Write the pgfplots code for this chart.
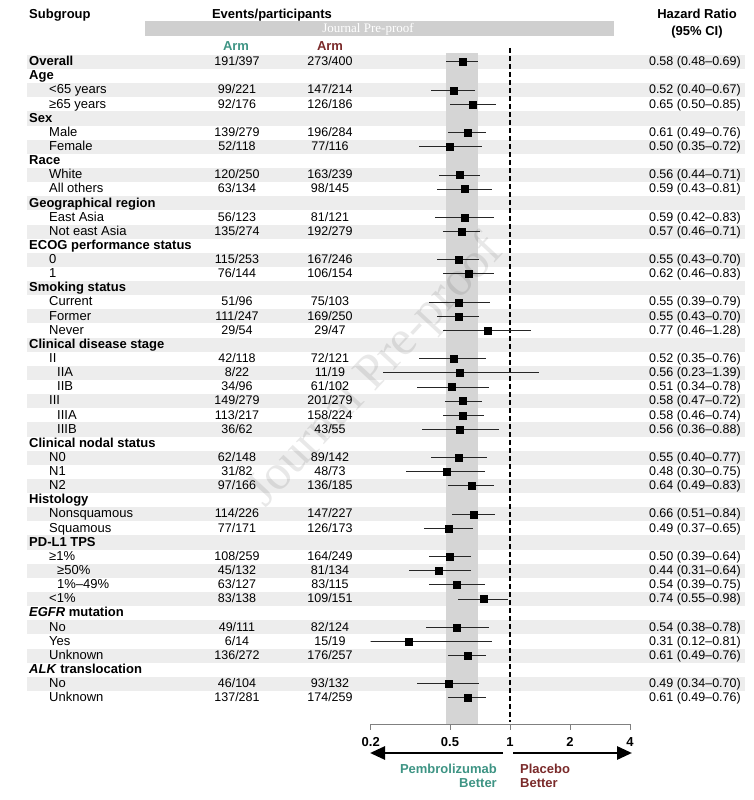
\documentclass[border=0pt]{standalone}
\usepackage{fontspec}
\setmainfont{Liberation Sans}
\newfontfamily\wmfont{Liberation Serif}
\usepackage{pgfplots}
\usepackage{pgfplotstable}
\pgfplotsset{compat=1.18}
\usetikzlibrary{arrows.meta}

\definecolor{pembro}{HTML}{3E9484}
\definecolor{placebo}{HTML}{7A2A2A}
\definecolor{stripe}{HTML}{EDEDED}
\definecolor{ciband}{HTML}{D5D5D5}
\definecolor{hdrbar}{HTML}{CFCFCF}

% i = row (top to bottom), lx = left edge of the label in px
\pgfplotstableread[col sep=semicolon]{
i;lx;sub;a;b;hr;lo;hi;ci
1;29;\textbf{Overall};191/397;273/400;0.58;0.48;0.69;0.58 (0.48–0.69)
2;29;\textbf{Age};{};{};nan;nan;nan;{}
3;49;<65 years;99/221;147/214;0.52;0.40;0.67;0.52 (0.40–0.67)
4;49;≥65 years;92/176;126/186;0.65;0.50;0.85;0.65 (0.50–0.85)
5;29;\textbf{Sex};{};{};nan;nan;nan;{}
6;49;Male;139/279;196/284;0.61;0.49;0.76;0.61 (0.49–0.76)
7;49;Female;52/118;77/116;0.50;0.35;0.72;0.50 (0.35–0.72)
8;29;\textbf{Race};{};{};nan;nan;nan;{}
9;49;White;120/250;163/239;0.56;0.44;0.71;0.56 (0.44–0.71)
10;49;All others;63/134;98/145;0.59;0.43;0.81;0.59 (0.43–0.81)
11;29;\textbf{Geographical region};{};{};nan;nan;nan;{}
12;49;East Asia;56/123;81/121;0.59;0.42;0.83;0.59 (0.42–0.83)
13;49;Not east Asia;135/274;192/279;0.57;0.46;0.71;0.57 (0.46–0.71)
14;29;\textbf{ECOG performance status};{};{};nan;nan;nan;{}
15;49;0;115/253;167/246;0.55;0.43;0.70;0.55 (0.43–0.70)
16;49;1;76/144;106/154;0.62;0.46;0.83;0.62 (0.46–0.83)
17;29;\textbf{Smoking status};{};{};nan;nan;nan;{}
18;49;Current;51/96;75/103;0.55;0.39;0.79;0.55 (0.39–0.79)
19;49;Former;111/247;169/250;0.55;0.43;0.70;0.55 (0.43–0.70)
20;49;Never;29/54;29/47;0.77;0.46;1.28;0.77 (0.46–1.28)
21;29;\textbf{Clinical disease stage};{};{};nan;nan;nan;{}
22;49;II;42/118;72/121;0.52;0.35;0.76;0.52 (0.35–0.76)
23;57;IIA;8/22;11/19;0.56;0.23;1.39;0.56 (0.23–1.39)
24;57;IIB;34/96;61/102;0.51;0.34;0.78;0.51 (0.34–0.78)
25;49;III;149/279;201/279;0.58;0.47;0.72;0.58 (0.47–0.72)
26;57;IIIA;113/217;158/224;0.58;0.46;0.74;0.58 (0.46–0.74)
27;57;IIIB;36/62;43/55;0.56;0.36;0.88;0.56 (0.36–0.88)
28;29;\textbf{Clinical nodal status};{};{};nan;nan;nan;{}
29;49;N0;62/148;89/142;0.55;0.40;0.77;0.55 (0.40–0.77)
30;49;N1;31/82;48/73;0.48;0.30;0.75;0.48 (0.30–0.75)
31;49;N2;97/166;136/185;0.64;0.49;0.83;0.64 (0.49–0.83)
32;29;\textbf{Histology};{};{};nan;nan;nan;{}
33;49;Nonsquamous;114/226;147/227;0.66;0.51;0.84;0.66 (0.51–0.84)
34;49;Squamous;77/171;126/173;0.49;0.37;0.65;0.49 (0.37–0.65)
35;29;\textbf{PD-L1 TPS};{};{};nan;nan;nan;{}
36;49;≥1\%;108/259;164/249;0.50;0.39;0.64;0.50 (0.39–0.64)
37;57;≥50\%;45/132;81/134;0.44;0.31;0.64;0.44 (0.31–0.64)
38;57;1\%–49\%;63/127;83/115;0.54;0.39;0.75;0.54 (0.39–0.75)
39;49;<1\%;83/138;109/151;0.74;0.55;0.98;0.74 (0.55–0.98)
40;29;\textbf{\textit{EGFR} mutation};{};{};nan;nan;nan;{}
41;49;No;49/111;82/124;0.54;0.38;0.78;0.54 (0.38–0.78)
42;49;Yes;6/14;15/19;0.31;0.12;0.81;0.31 (0.12–0.81)
43;49;Unknown;136/272;176/257;0.61;0.49;0.76;0.61 (0.49–0.76)
44;29;\textbf{\textit{ALK} translocation};{};{};nan;nan;nan;{}
45;49;No;46/104;93/132;0.49;0.34;0.70;0.49 (0.34–0.70)
46;49;Unknown;137/281;174/259;0.61;0.49;0.76;0.61 (0.49–0.76)
}\forest

% row centre, counted up from the bottom of the picture
\newcommand{\rowy}{738-(\thisrow{i}-1)*14.133}
\newcommand{\fs}{\fontsize{12.5}{14}\selectfont}
\newcommand{\fl}{\fontsize{13}{14}\selectfont}
\newcommand{\fb}{\fontsize{13}{14}\selectfont\bfseries}

\begin{document}
\begin{tikzpicture}[font=\fs,
  cell/.style={inner sep=0pt, text height=1.6ex, text depth=0.2ex}]
\path[use as bounding box] (0,0) rectangle (753pt,800pt);

% text layer, one unit = one pixel
\begin{axis}[
  at={(0pt,0pt)}, anchor=south west,
  scale only axis, width=753pt, height=800pt,
  xmin=0, xmax=753, ymin=0, ymax=800,
  hide axis, clip=false,
  ]
  \pgfplotsinvokeforeach{1,3,...,45}{
    \fill[stripe] (axis cs:27,{738-(#1-1)*14.133-7.07}) rectangle (axis cs:745,{738-(#1-1)*14.133+7.07});
  }
  \addplot[draw=none, mark=none, nodes near coords, point meta=explicit symbolic,
    every node near coord/.append style={cell, anchor=west, font=\fl}]
    table[x=lx, y expr=\rowy, meta=sub] {\forest};
  \addplot[draw=none, mark=none, nodes near coords, point meta=explicit symbolic,
    every node near coord/.append style={cell, anchor=center}]
    table[x expr=237, y expr=\rowy, meta=a] {\forest};
  \addplot[draw=none, mark=none, nodes near coords, point meta=explicit symbolic,
    every node near coord/.append style={cell, anchor=center}]
    table[x expr=330, y expr=\rowy, meta=b] {\forest};
  \addplot[draw=none, mark=none, nodes near coords, point meta=explicit symbolic,
    every node near coord/.append style={cell, anchor=east}]
    table[x expr=741, y expr=\rowy, meta=ci] {\forest};

  % headers
  \node[cell, anchor=west, font=\fb] at (axis cs:29,785) {Subgroup};
  \node[cell, font=\fb] at (axis cs:272,785) {Events/participants};
  \fill[hdrbar] (axis cs:145,779) rectangle (axis cs:614,764);
  \node[cell, text=white, font=\wmfont\fontsize{13}{14}\selectfont] at (axis cs:368,771.5) {Journal Pre-proof};
  \node[cell, font=\fb] at (axis cs:697,785) {Hazard Ratio};
  \node[cell, font=\fb] at (axis cs:697,768) {(95\% CI)};
  \node[cell, font=\fb, text=pembro] at (axis cs:236,753) {Arm};
  \node[cell, font=\fb, text=placebo] at (axis cs:330,753) {Arm};

  % direction arrows and captions
  \draw[line width=2.8pt, -{Triangle[length=15pt,width=13pt]}] (axis cs:503,47) -- (axis cs:370,47);
  \draw[line width=2.8pt, -{Triangle[length=15pt,width=13pt]}] (axis cs:513,47) -- (axis cs:632,47);
  \node[cell, anchor=east, font=\fb, text=pembro] at (axis cs:497,30) {Pembrolizumab};
  \node[cell, anchor=east, font=\fb, text=pembro] at (axis cs:497,16) {Better};
  \node[cell, anchor=west, font=\fb, text=placebo] at (axis cs:520,30) {Placebo};
  \node[cell, anchor=west, font=\fb, text=placebo] at (axis cs:520,16) {Better};
\end{axis}

% forest plot
\begin{axis}[
  at={(370.7pt,76pt)}, anchor=south west,
  scale only axis, width=259.3pt, height=676pt,
  xmode=log, xmin=0.2, xmax=4, ymin=76, ymax=752,
  enlargelimits=false,
  axis x line=bottom, axis y line=none,
  x axis line style={-, gray, line width=0.8pt},
  xtick={0.2,0.5,1,2,4}, xticklabels={0.2,0.5,1,2,4}, minor xtick={},
  ytick=\empty,
  tick align=outside, major tick length=6pt,
  xtick style={gray, line width=0.8pt},
  xticklabel style={font=\fb, cell, anchor=center, yshift=-13pt},
  ]
  \addplot[fill=ciband, draw=none] coordinates {(0.48,747) (0.69,747) (0.69,76) (0.48,76)} -- cycle;
  \addplot[black, line width=1.8pt, dash pattern=on 5pt off 3pt] coordinates {(1,752) (1,78)};
  \addplot[only marks, mark=square*, mark size=3.5pt, black,
    error bars/.cd, x dir=both, x explicit, error mark=none,
    error bar style={line width=1pt, black!85}]
    table[x=hr, y expr=\rowy,
      x error plus expr=\thisrow{hi}-\thisrow{hr},
      x error minus expr=\thisrow{hr}-\thisrow{lo}] {\forest};
\end{axis}

% watermark
\node[rotate=47, text=black, opacity=0.09, font=\wmfont\fontsize{50}{50}\selectfont]
  at (376pt,428pt) {Journal Pre-proof};
\end{tikzpicture}
\end{document}
